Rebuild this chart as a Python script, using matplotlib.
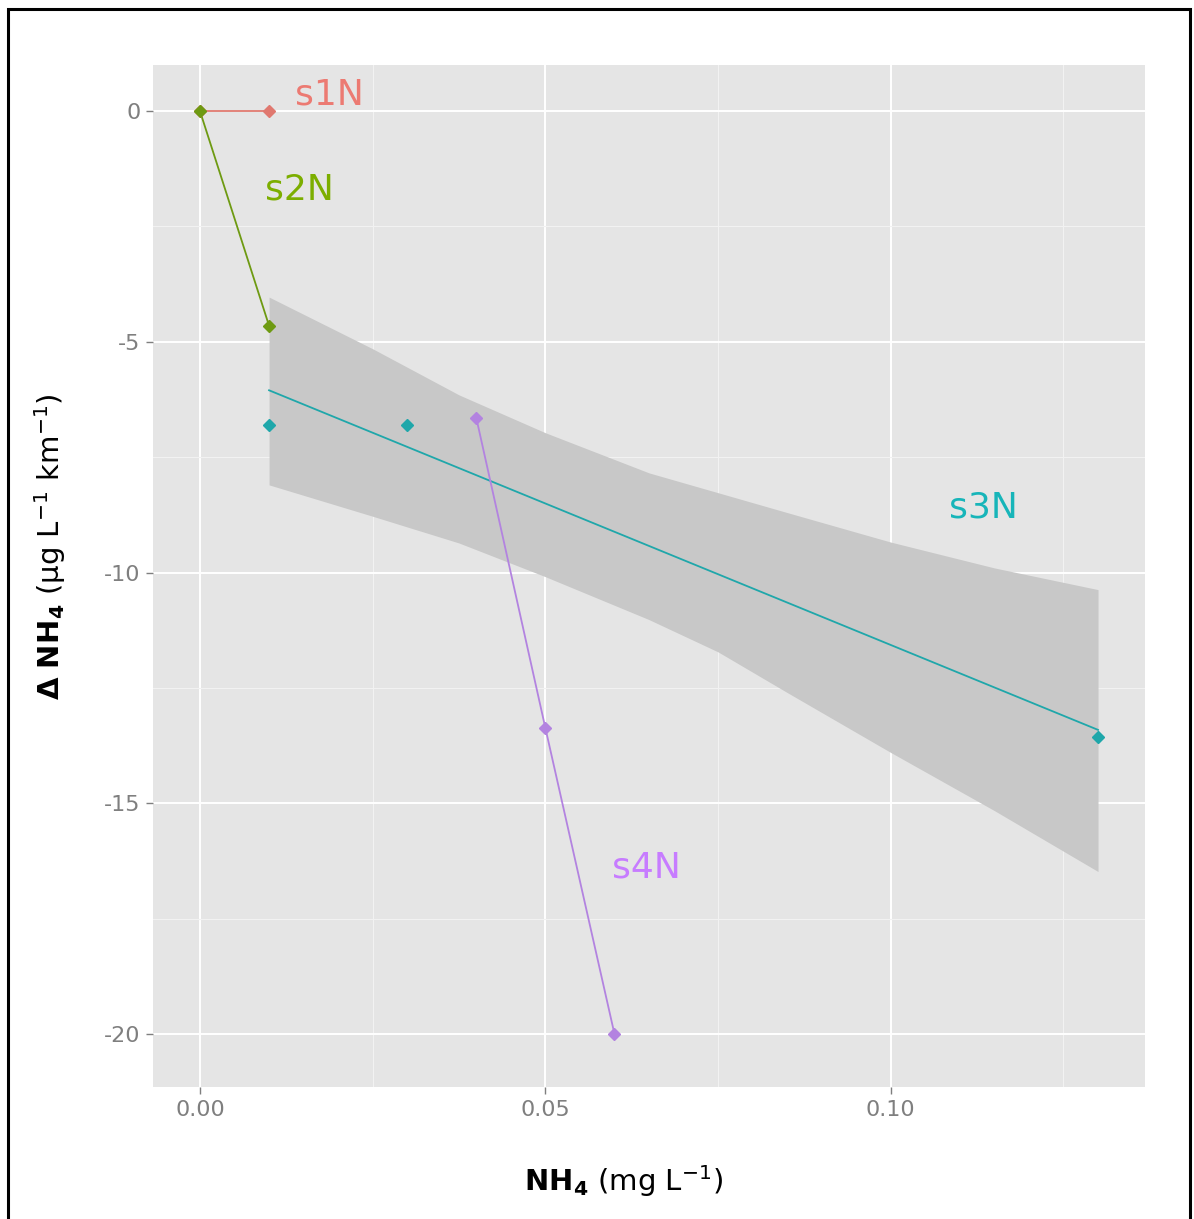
import matplotlib
matplotlib.use("Agg")
import matplotlib.pyplot as plt
from matplotlib.patches import Rectangle

plt.rcParams['axes.unicode_minus'] = False
plt.rcParams['font.family'] = ['DejaVu Sans']

# ---- data ----
s1_x = [0.00, 0.01]
s1_y = [0.0, 0.0]
s2_x = [0.00, 0.01]
s2_y = [0.0, -4.65]
s3_x = [0.01, 0.03, 0.13]
s3_y = [-6.80, -6.80, -13.56]
s4_x = [0.04, 0.05, 0.06]
s4_y = [-6.65, -13.37, -20.0]

# linear fit of s3N and its confidence band
fit_x = [0.01, 0.13]
fit_y = [-6.05, -13.41]
band_x = [0.01, 0.025, 0.0375, 0.05, 0.065, 0.075, 0.085, 0.10, 0.115, 0.13]
band_hi = [-4.03, -5.15, -6.15, -6.97, -7.84, -8.27, -8.70, -9.34, -9.90, -10.37]
band_lo = [-8.10, -8.78, -9.36, -10.09, -11.02, -11.72, -12.60, -13.90, -15.16, -16.48]

series_labels = ['s1N', 's2N', 's3N', 's4N']
label_x = [0.0188, 0.0144, 0.1134, 0.0647]
label_y = [0.35, -1.69, -8.58, -16.40]

x_ticks = [0.00, 0.05, 0.10]
x_ticklabels = ['0.00', '0.05', '0.10']
y_ticks = [0, -5, -10, -15, -20]
y_ticklabels = ['0', '-5', '-10', '-15', '-20']

colors = ['#EC7A72', '#7CAE00', '#17B5B9', '#C77CFF']
line_colors = ['#E0786F', '#6E9A12', '#1FA7AA', '#B383E0']

W, H = 1194, 1219
fig = plt.figure(figsize=(W / 100, H / 100), dpi=100)
fig.patch.set_facecolor('white')

ax = fig.add_axes([153 / W, 1 - 1087 / H, (1145 - 153) / W, (1087 - 65) / H])
ax.set_facecolor('#E5E5E5')
for s in ax.spines.values():
    s.set_visible(False)

ax.set_xlim(-0.0068, 0.1368)
ax.set_ylim(-21.15, 1.0)

ax.set_xticks(x_ticks)
ax.set_xticklabels(x_ticklabels)
ax.set_yticks(y_ticks)
ax.set_yticklabels(y_ticklabels)
ax.set_xticks([0.025, 0.075, 0.125], minor=True)
ax.set_yticks([-2.5, -7.5, -12.5, -17.5], minor=True)
ax.grid(True, which='major', color='white', linewidth=1.4)
ax.grid(True, which='minor', color='#F2F2F2', linewidth=0.8)
ax.set_axisbelow(True)
ax.tick_params(axis='both', which='major', colors='#7F7F7F', labelsize=16,
               length=5, width=1.0, pad=4)
ax.tick_params(axis='both', which='minor', length=0)

# band + fit
ax.fill_between(band_x, band_lo, band_hi, color='#C8C8C8', linewidth=0, zorder=1)
ax.plot(fit_x, fit_y, color=line_colors[2], linewidth=1.3, zorder=3)

# series
xs = [s1_x, s2_x, s3_x, s4_x]
ys = [s1_y, s2_y, s3_y, s4_y]
for i, (x, y) in enumerate(zip(xs, ys)):
    if i != 2:
        ax.plot(x, y, color=line_colors[i], linewidth=1.3, zorder=4)
    ax.plot(x, y, linestyle='none', marker='D', markersize=6,
            color=line_colors[i], zorder=5)

for lab, lx, ly, c in zip(series_labels, label_x, label_y, colors):
    ax.text(lx, ly, lab, color=c, fontsize=26, ha='center', va='center', zorder=6)

ax.set_xlabel(r'$\mathbf{NH_4}$ (mg L$^{\mathregular{-1}}$)', fontsize=21, color='black')
ax.set_ylabel(r'$\mathbf{\Delta\ NH_4}$ (µg L$^{-1}$ km$^{-1}$)', fontsize=21, color='black')
ax.xaxis.set_label_coords((624 - 153) / (1145 - 153), -(1163 - 1087) / (1087 - 65))
ax.yaxis.set_label_coords(-(153 - 68) / (1145 - 153), 1 - (547 - 65) / (1087 - 65))

# outer black frame
fig.patches.append(Rectangle((8 / W, -0.02), (1190 - 8) / W, 1 - 9 / H + 0.02,
                             transform=fig.transFigure, fill=False,
                             edgecolor='black', linewidth=2.2))

fig.savefig('out.png', dpi=100)
